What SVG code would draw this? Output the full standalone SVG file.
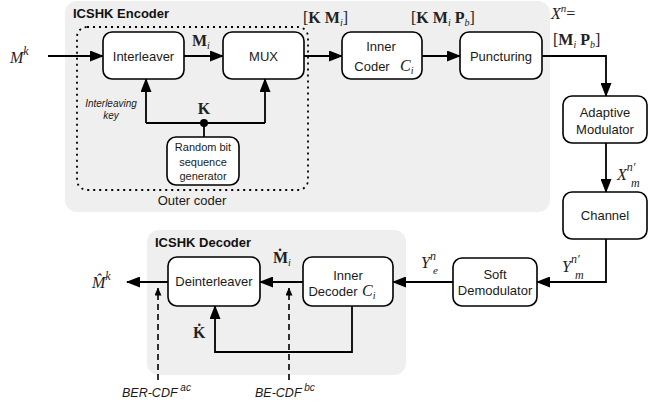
<svg xmlns="http://www.w3.org/2000/svg" width="670" height="406" viewBox="0 0 670 406">
<defs>
<style>
.bg{fill:#efefef;stroke:none}
.box{fill:#fff;stroke:#000;stroke-width:1.6}
.ln{fill:none;stroke:#000;stroke-width:1.8}
.dash{fill:none;stroke:#000;stroke-width:1.6;stroke-dasharray:6,4}
.dot{fill:none;stroke:#000;stroke-width:1.8;stroke-dasharray:2,4}
.t{font-family:"Liberation Sans",Arial,sans-serif;font-size:13px;fill:#1a1a1a;text-anchor:middle}
.ts{font-family:"Liberation Sans",Arial,sans-serif;font-size:11px;fill:#1a1a1a;text-anchor:middle}
.title{font-family:"Liberation Sans",Arial,sans-serif;font-size:13px;font-weight:bold;fill:#111}
.it{font-family:"Liberation Sans",Arial,sans-serif;font-style:italic;fill:#1a1a1a}
.m{font-family:"Liberation Serif","DejaVu Serif",serif;font-size:16px;fill:#222}
.b{font-weight:bold}
.i{font-style:italic}
</style>
<marker id="ah" markerUnits="userSpaceOnUse" markerWidth="14" markerHeight="11" refX="13" refY="5.5" orient="auto">
<path d="M0,0 L14,5.5 L0,11 z" fill="#000"/>
</marker>
<marker id="ahs" markerUnits="userSpaceOnUse" markerWidth="8" markerHeight="7" refX="7.5" refY="3.5" orient="auto">
<path d="M0,0 L8,3.5 L0,7 z" fill="#000"/>
</marker>
</defs>

<g id="encoder-bg">
<rect class="bg" x="65" y="1" width="485" height="211" rx="12"/>
<text class="title" x="73" y="18">ICSHK Encoder</text>
</g>
<g id="decoder-bg">
<rect class="bg" x="147" y="230" width="259" height="145" rx="12"/>
<text class="title" x="155" y="247">ICSHK Decoder</text>
</g>
<g id="outer-coder">
<rect class="dot" x="77" y="27" width="231" height="163" rx="10"/>
<text class="t" x="192" y="205">Outer coder</text>
</g>

<g id="connectors">
<path class="ln" d="M48,56 H103" marker-end="url(#ah)"/>
<path class="ln" d="M184,56 H223" marker-end="url(#ah)"/>
<path class="ln" d="M304,56 H342" marker-end="url(#ah)"/>
<path class="ln" d="M422,56 H460" marker-end="url(#ah)"/>
<path class="ln" d="M542,56 H606 V96" marker-end="url(#ah)"/>
<path class="ln" d="M606,143 V192" marker-end="url(#ah)"/>
<path class="ln" d="M606,239 V282 H537" marker-end="url(#ah)"/>
<path class="ln" d="M453,282 H393" marker-end="url(#ah)"/>
<path class="ln" d="M303,282 H260" marker-end="url(#ah)"/>
<path class="ln" d="M168,282 H127" marker-end="url(#ah)"/>
<path class="ln" d="M146,123 H265"/>
<path class="ln" d="M146,123 V79" marker-end="url(#ah)"/>
<path class="ln" d="M265,123 V79" marker-end="url(#ah)"/>
<path class="ln" d="M204,123 V137"/>
<circle cx="204" cy="123" r="4" fill="#000"/>
<path class="ln" d="M352,306 V352 H215 V306" marker-end="url(#ah)"/>
<path class="dash" d="M158,380 V288" marker-end="url(#ahs)"/>
<path class="dash" d="M289,380 V288" marker-end="url(#ahs)"/>
</g>

<g id="interleaver"><rect class="box" x="103" y="32" width="81" height="47" rx="9"/><text class="t" x="143.5" y="61">Interleaver</text></g>
<g id="mux"><rect class="box" x="223" y="32" width="81" height="47" rx="9"/><text class="t" x="263.5" y="61">MUX</text></g>
<g id="inner-coder"><rect class="box" x="342" y="32" width="80" height="47" rx="9"/><text class="t" x="381" y="51">Inner</text><text class="t" x="372" y="71">Coder</text><text class="m i" x="400" y="71">C<tspan font-size="10" dy="3">i</tspan></text></g>
<g id="puncturing"><rect class="box" x="460" y="32" width="82" height="47" rx="9"/><text class="t" x="501" y="61">Puncturing</text></g>
<g id="adaptive-modulator"><rect class="box" x="563" y="96" width="84" height="47" rx="9"/><text class="t" x="605" y="117">Adaptive</text><text class="t" x="605" y="134">Modulator</text></g>
<g id="channel"><rect class="box" x="563" y="192" width="84" height="47" rx="9"/><text class="t" x="605" y="220">Channel</text></g>
<g id="soft-demodulator"><rect class="box" x="453" y="258" width="84" height="48" rx="9"/><text class="t" x="495" y="279">Soft</text><text class="t" x="495" y="295">Demodulator</text></g>
<g id="inner-decoder"><rect class="box" x="303" y="257" width="90" height="49" rx="9"/><text class="t" x="348" y="280">Inner</text><text class="t" x="333" y="296">Decoder</text><text class="m i" x="362" y="296">C<tspan font-size="10" dy="3">i</tspan></text></g>
<g id="deinterleaver"><rect class="box" x="168" y="257" width="92" height="49" rx="9"/><text class="t" x="214" y="286">Deinterleaver</text></g>
<g id="random-bit-generator"><rect class="box" x="167" y="137" width="72" height="48" rx="9"/><text class="ts" x="203" y="151">Random bit</text><text class="ts" x="203" y="166">sequence</text><text class="ts" x="203" y="180">generator</text></g>

<g id="labels">
<text class="m i" x="10" y="63" font-size="20">M<tspan font-size="12" dy="-8">k</tspan></text>
<text class="m b" x="192" y="46">M<tspan class="i" font-weight="normal" font-size="10" dy="3">i</tspan></text>
<text class="m b" x="204" y="114" text-anchor="middle">K</text>
<text class="it" x="111" y="107" font-size="10" text-anchor="middle">Interleaving</text>
<text class="it" x="111" y="119" font-size="10" text-anchor="middle">key</text>
<text class="m" x="303" y="23" font-size="17">[<tspan class="b">K M</tspan><tspan class="i" font-size="10" dy="3">i</tspan><tspan dy="-3">]</tspan></text>
<text class="m" x="411" y="23" font-size="17">[<tspan class="b">K M</tspan><tspan class="i" font-size="10" dy="3">i</tspan><tspan dy="-3" class="b"> P</tspan><tspan class="i" font-size="10" dy="3">b</tspan><tspan dy="-3">]</tspan></text>
<text class="m" x="551" y="19" font-size="17"><tspan class="i">X</tspan><tspan class="i" font-size="11" dy="-7">n</tspan><tspan dy="7">=</tspan></text>
<text class="m" x="553" y="45" font-size="17">[<tspan class="b">M</tspan><tspan class="i" font-size="10" dy="3">i</tspan><tspan dy="-3" class="b"> P</tspan><tspan class="i" font-size="10" dy="3">b</tspan><tspan dy="-3">]</tspan></text>
<text class="m i" x="617" y="180" font-size="19">X<tspan font-size="12" dy="-9">n′</tspan><tspan font-size="12" x="631" dy="16">m</tspan></text>
<text class="m i" x="562" y="272" font-size="19">Y<tspan font-size="12" dy="-9">n′</tspan><tspan font-size="12" x="575" dy="16">m</tspan></text>
<text class="m i" x="421" y="268" font-size="18">Y<tspan font-size="12" dy="-8">n</tspan><tspan font-size="11" x="433" dy="14">e</tspan></text>
<text class="m i" x="92" y="288" font-size="20">M&#x302;<tspan font-size="12" dy="-8">k</tspan></text>
<text class="m b" x="273" y="263">Ṁ<tspan class="i" font-weight="normal" font-size="10" dy="3">i</tspan></text>
<text class="m b" x="193" y="338">K&#x307;</text>
<text class="it" x="122" y="397" font-size="12.5">BER-CDF<tspan font-size="10" dy="-6"> ac</tspan></text>
<text class="it" x="255" y="397" font-size="12.5">BE-CDF<tspan font-size="10" dy="-6"> bc</tspan></text>
</g>
</svg>
